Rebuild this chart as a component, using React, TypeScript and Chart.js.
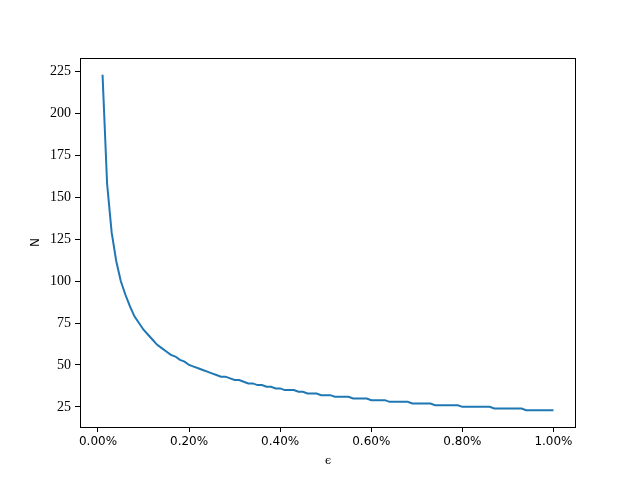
import React, { useEffect, useRef } from "react";
import { Chart, registerables } from "chart.js";

Chart.register(...registerables);

// epsilon steps in units of 0.01% (0.01% .. 1.00%)
const EPS_PERCENT_STEPS: number[] = [
  1, 2, 3, 4, 5, 6, 7, 8, 9, 10, 11, 12, 13, 14, 15, 16, 17, 18, 19, 20,
  21, 22, 23, 24, 25, 26, 27, 28, 29, 30, 31, 32, 33, 34, 35, 36, 37, 38, 39, 40,
  41, 42, 43, 44, 45, 46, 47, 48, 49, 50, 51, 52, 53, 54, 55, 56, 57, 58, 59, 60,
  61, 62, 63, 64, 65, 66, 67, 68, 69, 70, 71, 72, 73, 74, 75, 76, 77, 78, 79, 80,
  81, 82, 83, 84, 85, 86, 87, 88, 89, 90, 91, 92, 93, 94, 95, 96, 97, 98, 99, 100,
];

const N_VALUES: number[] = [
  223, 158, 129, 112, 100, 92, 85, 79, 75, 71,
  68, 65, 62, 60, 58, 56, 55, 53, 52, 50,
  49, 48, 47, 46, 45, 44, 43, 43, 42, 41,
  41, 40, 39, 39, 38, 38, 37, 37, 36, 36,
  35, 35, 35, 34, 34, 33, 33, 33, 32, 32,
  32, 31, 31, 31, 31, 30, 30, 30, 30, 29,
  29, 29, 29, 28, 28, 28, 28, 28, 27, 27,
  27, 27, 27, 26, 26, 26, 26, 26, 26, 25,
  25, 25, 25, 25, 25, 25, 24, 24, 24, 24,
  24, 24, 24, 23, 23, 23, 23, 23, 23, 23,
];

const X_TICKS: number[] = [0, 0.002, 0.004, 0.006, 0.008, 0.01];
const Y_TICKS: number[] = [25, 50, 75, 100, 125, 150, 175, 200, 225];

const frame = {
  id: "frame",
  afterDatasetsDraw(chart: any) {
    const { ctx, chartArea } = chart;
    ctx.save();
    ctx.strokeStyle = "#000";
    ctx.lineWidth = 1;
    ctx.strokeRect(
      Math.round(chartArea.left) + 0.5,
      Math.round(chartArea.top) + 0.5,
      Math.round(chartArea.right - chartArea.left) - 1,
      Math.round(chartArea.bottom - chartArea.top)
    );
    ctx.restore();
  },
};

export default function App() {
  const ref = useRef<HTMLCanvasElement | null>(null);
  useEffect(() => {
    if (!ref.current) return;
    const data = EPS_PERCENT_STEPS.map((k, i) => ({ x: k * 0.0001, y: N_VALUES[i] }));
    const chart = new Chart(ref.current, {
      type: "line",
      data: {
        datasets: [
          {
            data,
            borderColor: "#1f77b4",
            borderWidth: 2,
            pointRadius: 0,
            tension: 0,
            fill: false,
          },
        ],
      },
      options: {
        animation: false,
        responsive: false,
        devicePixelRatio: 1,
        layout: { padding: { top: 58, right: 64, left: 0, bottom: 0 } },
        plugins: { legend: { display: false }, tooltip: { enabled: false } },
        scales: {
          x: {
            type: "linear",
            min: -0.000395,
            max: 0.010495,
            afterFit: (s: any) => {
              s.height = 53;
            },
            afterBuildTicks: (s: any) => {
              s.ticks = X_TICKS.map((v) => ({ value: v }));
            },
            ticks: {
              color: "#000",
              font: { family: "DejaVu Sans", size: 12 },
              padding: 3,
              maxRotation: 0,
              callback: (v: any) => (Number(v) * 100).toFixed(2) + "%",
            },
            grid: {
              display: true,
              drawOnChartArea: false,
              drawTicks: true,
              tickLength: 5,
              color: "#000",
            },
            border: { display: false },
            title: {
              display: true,
              text: "ϵ",
              color: "#000",
              font: { family: "DejaVu Serif", size: 11 },
              padding: { top: 0, bottom: 12 },
            },
          },
          y: {
            type: "linear",
            min: 13,
            max: 233,
            afterFit: (s: any) => {
              s.width = 80;
            },
            afterBuildTicks: (s: any) => {
              s.ticks = Y_TICKS.map((v) => ({ value: v }));
            },
            ticks: {
              color: "#000",
              font: { family: "Liberation Serif", size: 14 },
              padding: 4,
              callback: (v: any) => String(v),
            },
            grid: {
              display: true,
              drawOnChartArea: false,
              drawTicks: true,
              tickLength: 5,
              color: "#000",
            },
            border: { display: false },
            title: {
              display: true,
              text: "N",
              color: "#000",
              font: { family: "DejaVu Sans", size: 12 },
              padding: { top: 29, bottom: 0 },
            },
          },
        },
      },
      plugins: [frame],
    });
    return () => chart.destroy();
  }, []);
  return (
    <div style={{ position: "absolute", left: 0, top: 0, width: 640, height: 480, background: "#fff" }}>
      <canvas ref={ref} width={640} height={480} style={{ width: 640, height: 480 }} />
    </div>
  );
}
